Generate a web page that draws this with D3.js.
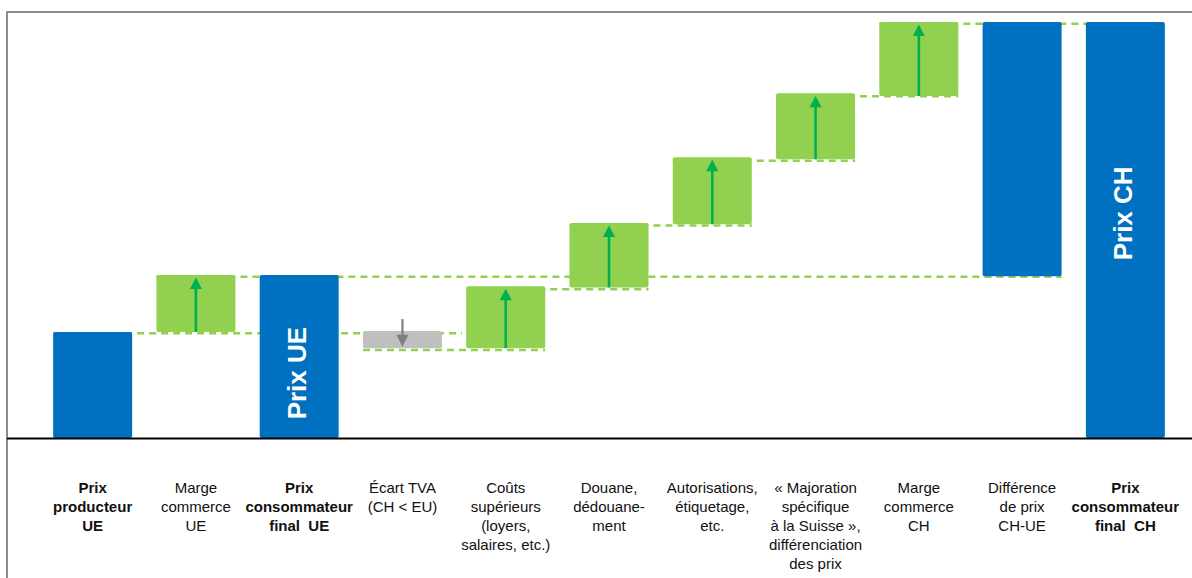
<!DOCTYPE html>
<html>
<head>
<meta charset="utf-8">
<script src="https://cdn.jsdelivr.net/npm/d3@7"></script>
<style>
  html, body { margin: 0; padding: 0; background: #fff; }
  svg { display: block; }
</style>
</head>
<body>
<svg id="chart" width="1192" height="578"></svg>
<script>
// ---- data ----
const categories = ["prodUE","margeUE","consoUE","tva","couts","douane","autoris","majoration","margeCH","diff","consoCH"];
const labelLines = [
  ["Prix", "producteur", "UE"],
  ["Marge", "commerce", "UE"],
  ["Prix", "consommateur", "final  UE"],
  ["Écart TVA", "(CH < EU)"],
  ["Coûts", "supérieurs", "(loyers,", "salaires, etc.)"],
  ["Douane,", "dédouane-", "ment"],
  ["Autorisations,", "étiquetage,", "etc."],
  ["« Majoration", "spécifique", "à la Suisse »,", "différenciation", "des prix"],
  ["Marge", "commerce", "CH"],
  ["Différence", "de prix", "CH-UE"],
  ["Prix", "consommateur", "final  CH"]
];
const boldLabel = [true, false, true, false, false, false, false, false, false, false, true];
const barLow  = [0,    25.5, 0,    21.6, 21.6, 36.2, 51.4, 67.0, 82.2, 38.9, 0];
const barHigh = [25.5, 39.2, 39.2, 25.7, 36.5, 51.7, 67.5, 82.9, 100,  100,  100];
const barType = ["total","up","total","down","up","up","up","up","up","total","total"];
const barText = ["", "", "Prix UE", "", "", "", "", "", "", "", "Prix CH"];
const barTextAt = [0, 0, 15.6, 0, 0, 0, 0, 0, 0, 0, 54];
// connectors: level, from bar, to bar
const connLevel = [25.6, 39.2, 21.6, 36.2, 51.5, 67.1, 82.6, 100];
const connFrom  = [0,    1,    3,    4,    5,    6,    7,    8];
const connTo    = [3,    9,    4,    5,    6,    7,    8,    10];

// ---- drawing ----
const svg = d3.select("#chart");
const W = 1192, H = 578;

const x = d3.scaleBand().domain(categories).range([41, 1177]).paddingInner(0.235).paddingOuter(0.1175);
const y = d3.scaleLinear().domain([0, 100]).range([438, 22]);
const bw = x.bandwidth();

const colors = { total: "#0070c0", up: "#92d050", down: "#bfbfbf" };

// frame
svg.append("line").attr("x1", 7).attr("x2", W).attr("y1", 12).attr("y2", 12)
  .attr("stroke", "#8c8c8c").attr("stroke-width", 2);
svg.append("line").attr("x1", 7).attr("x2", 7).attr("y1", 11).attr("y2", H)
  .attr("stroke", "#8c8c8c").attr("stroke-width", 2);

// connectors (behind bars)
svg.append("g").selectAll("line").data(connLevel).join("line")
  .attr("x1", (d, i) => x(categories[connFrom[i]]))
  .attr("x2", (d, i) => x(categories[connTo[i]]) + bw + (connTo[i] === 3 ? 20 : 0))
  .attr("y1", d => y(d) + 1.8).attr("y2", d => y(d) + 1.8)
  .attr("stroke", "#92d050").attr("stroke-width", 2.5)
  .attr("stroke-dasharray", "7,5");

// bars
svg.append("g").selectAll("rect").data(categories).join("rect")
  .attr("x", d => x(d))
  .attr("width", bw)
  .attr("y", (d, i) => y(barHigh[i]))
  .attr("height", (d, i) => y(barLow[i]) - y(barHigh[i]))
  .attr("rx", 2)
  .attr("fill", (d, i) => colors[barType[i]]);

// arrows
const ag = svg.append("g");
categories.forEach((c, i) => {
  const cx = x(c) + bw / 2;
  if (barType[i] === "up") {
    const top = y(barHigh[i]) + 2.5, bot = y(barLow[i]);
    ag.append("line").attr("x1", cx).attr("x2", cx).attr("y1", bot).attr("y2", top + 10)
      .attr("stroke", "#00b050").attr("stroke-width", 2.6);
    ag.append("path").attr("d", `M${cx},${top} L${cx - 6},${top + 11.5} L${cx + 6},${top + 11.5} Z`)
      .attr("fill", "#00b050");
  } else if (barType[i] === "down") {
    const tip = y(barLow[i]) - 1.5, start = y(barHigh[i]) - 12;
    ag.append("line").attr("x1", cx).attr("x2", cx).attr("y1", start).attr("y2", tip - 10)
      .attr("stroke", "#7f7f7f").attr("stroke-width", 2.2);
    ag.append("path").attr("d", `M${cx},${tip} L${cx - 6},${tip - 12} L${cx + 6},${tip - 12} Z`)
      .attr("fill", "#7f7f7f");
  }
});

// text in bars
svg.append("g").selectAll("text").data(categories.filter((c, i) => barText[i])).join("text")
  .attr("transform", d => {
    const i = categories.indexOf(d);
    return `translate(${x(d) + bw / 2 + 7},${y(barTextAt[i])}) rotate(-90)`;
  })
  .attr("text-anchor", "middle")
  .attr("font-family", "'Liberation Sans', Arial, sans-serif")
  .attr("font-weight", "bold")
  .attr("font-size", 26)
  .attr("fill", "#fff")
  .text(d => barText[categories.indexOf(d)]);

// baseline
svg.append("line").attr("x1", 7).attr("x2", W).attr("y1", y(0) + 0.5).attr("y2", y(0) + 0.5)
  .attr("stroke", "#000").attr("stroke-width", 2.2);

// category labels
const lg = svg.append("g");
categories.forEach((c, i) => {
  const t = lg.append("text")
    .attr("x", x(c) + bw / 2)
    .attr("y", 493)
    .attr("text-anchor", "middle")
    .attr("font-family", "'Liberation Sans', Arial, sans-serif")
    .attr("font-size", 15)
    .attr("font-weight", boldLabel[i] ? "bold" : "normal")
    .attr("fill", "#111");
  labelLines[i].forEach((ln, k) => {
    t.append("tspan").attr("x", x(c) + bw / 2).attr("dy", k === 0 ? 0 : 19).attr("xml:space", "preserve").text(ln);
  });
});
</script>
</body>
</html>
